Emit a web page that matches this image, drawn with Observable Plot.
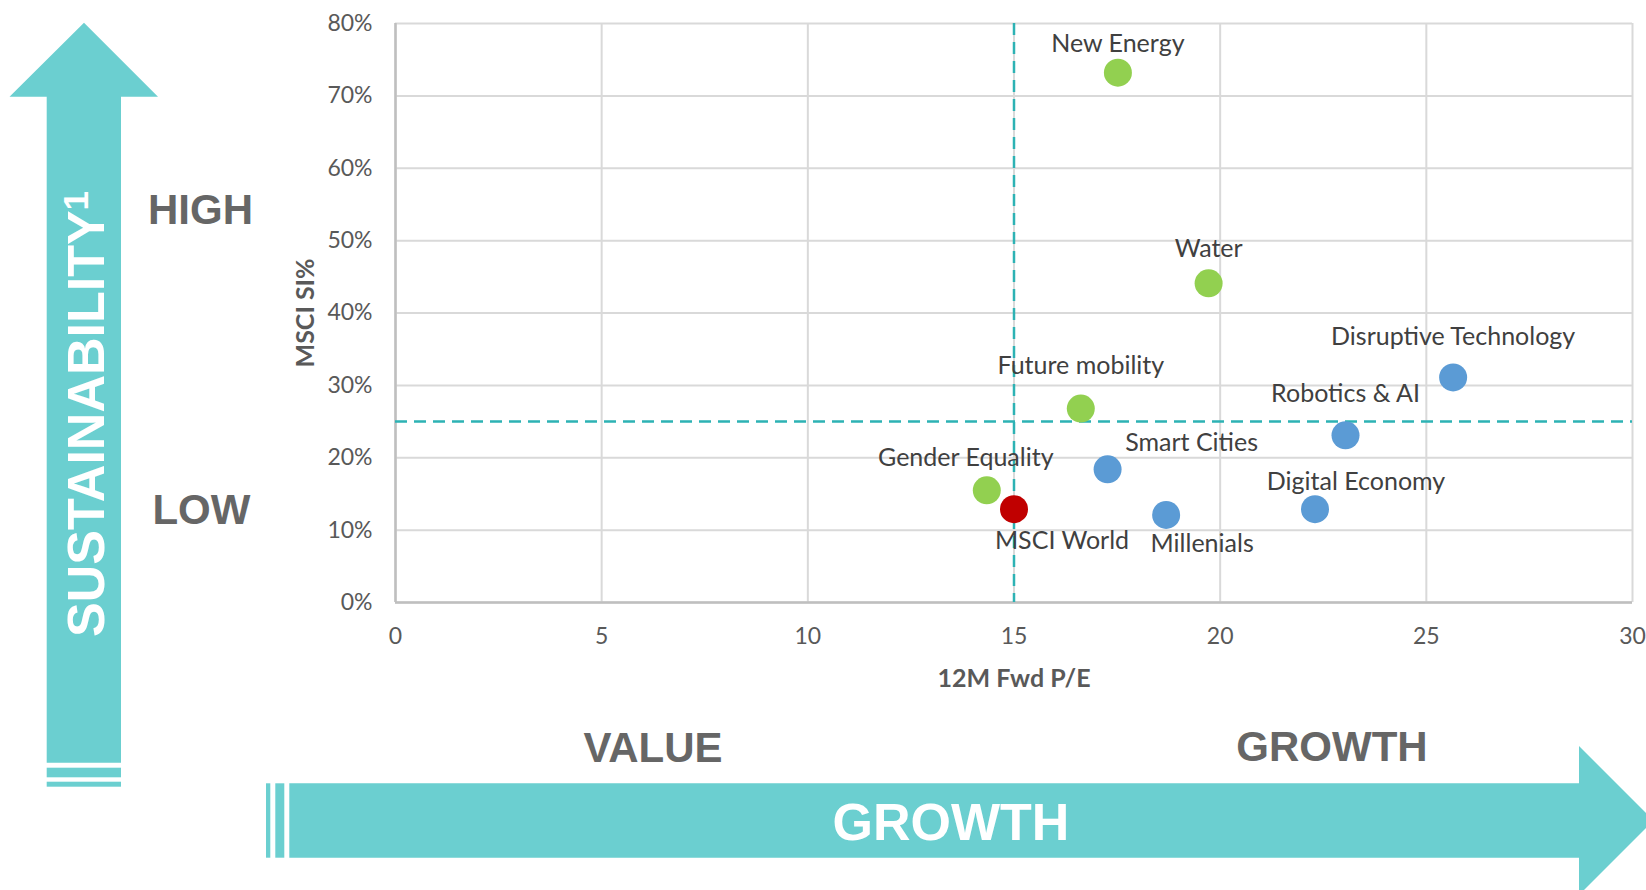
<!DOCTYPE html>
<html>
<head>
<meta charset="utf-8">
<script src="https://cdn.jsdelivr.net/npm/d3@7"></script>
<script src="https://cdn.jsdelivr.net/npm/@observablehq/plot@0.6"></script>
<style>
  html, body { margin: 0; padding: 0; background: #fff; }
  #chart { position: relative; width: 1646px; height: 890px; overflow: hidden; }
</style>
</head>
<body>
<div id="chart"></div>
<script>
// ---------- data ----------
const themes = ["New Energy", "Water", "Future mobility", "Gender Equality", "MSCI World",
                "Smart Cities", "Millenials", "Digital Economy", "Robotics & AI", "Disruptive Technology"];
const fwdPE  = [17.52, 19.72, 16.62, 14.34, 15.0, 17.27, 18.69, 22.3, 23.04, 25.65];
const msciSI = [0.732, 0.441, 0.268, 0.155, 0.129, 0.184, 0.121, 0.129, 0.231, 0.311];
const themeGroup = ["Sustainability", "Sustainability", "Sustainability", "Sustainability", "Benchmark",
                    "Technology", "Technology", "Technology", "Technology", "Technology"];
const groupNames = ["Sustainability", "Technology", "Benchmark"];
const xTicks = [0, 5, 10, 15, 20, 25, 30];
const yTicks = [0, 0.1, 0.2, 0.3, 0.4, 0.5, 0.6, 0.7, 0.8];
const peThreshold = [15];
const siThreshold = [0.25];
const xTitle = "12M Fwd P/E";
const yTitle = "MSCI SI%";

const rows = themes.map((name, i) => ({name, pe: fwdPE[i], si: msciSI[i], group: themeGroup[i]}));

// label placement relative to each dot (layout only)
const labelOffsets = {
  "New Energy": [0, -21],
  "Water": [0, -26],
  "Future mobility": [0, -35],
  "Gender Equality": [-21, -24],
  "MSCI World": [48, 40],
  "Smart Cities": [84, -18],
  "Millenials": [36, 37],
  "Digital Economy": [41, -19],
  "Robotics & AI": [0, -33],
  "Disruptive Technology": [0, -32]
};

const teal = "#2DB2B4";
const labelMarks = rows.map(r => Plot.text([r], {
  x: "pe", y: "si", text: "name",
  dx: labelOffsets[r.name][0], dy: labelOffsets[r.name][1],
  lineAnchor: "bottom", textAnchor: "middle",
  fontSize: 25, fill: "#404040"
}));

const svg = Plot.plot({
  width: 1646,
  height: 890,
  marginLeft: 395,
  marginRight: 14,
  marginTop: 23,
  marginBottom: 288,
  style: {fontFamily: "Lato, 'Open Sans', sans-serif", background: "white"},
  x: {domain: [0, 30]},
  y: {domain: [0, 0.8]},
  color: {domain: groupNames, range: ["#92D050", "#5B9BD5", "#C00000"]},
  marks: [
    Plot.gridX(xTicks, {stroke: "#D9D9D9", strokeOpacity: 1, strokeWidth: 2}),
    Plot.gridY(yTicks, {stroke: "#D9D9D9", strokeOpacity: 1, strokeWidth: 2}),
    Plot.ruleX([0], {stroke: "#BFBFBF", strokeWidth: 2.5}),
    Plot.ruleY([0], {stroke: "#BFBFBF", strokeWidth: 2.5}),
    Plot.axisX({ticks: xTicks, tickSize: 0, tickPadding: 25, fontSize: 23, fill: "#595959", label: null}),
    Plot.axisY({ticks: yTicks, tickFormat: d3.format(".0%"), tickSize: 0, tickPadding: 23, fontSize: 23, fill: "#595959", label: null}),
    Plot.text([xTitle], {frameAnchor: "bottom", dy: 84, lineAnchor: "bottom", textAnchor: "middle", fontSize: 25, fontWeight: "bold", fill: "#595959"}),
    Plot.text([yTitle], {frameAnchor: "left", dx: -82, rotate: -90, lineAnchor: "bottom", textAnchor: "middle", fontSize: 25, fontWeight: "bold", fill: "#595959"}),
    Plot.ruleX(peThreshold, {stroke: teal, strokeWidth: 2.5, strokeDasharray: "12,7"}),
    Plot.ruleY(siThreshold, {stroke: teal, strokeWidth: 2.5, strokeDasharray: "12,7"}),
    Plot.dot(rows, {x: "pe", y: "si", r: 14, fill: "group"}),
    ...labelMarks
  ]
});

document.getElementById("chart").appendChild(svg);

// ---------- decorations (arrows & quadrant words) ----------
const arrowFill = "#6BCFD0";
const deco = d3.select(svg).append("g").attr("class", "decorations");
// vertical arrow
deco.append("polygon")
  .attr("points", "9.5,96.7 84,22.7 158,96.7 121,96.7 121,762.7 46.7,762.7 46.7,96.7")
  .attr("fill", arrowFill);
deco.append("rect").attr("x", 46.7).attr("y", 767.7).attr("width", 74.3).attr("height", 9.6).attr("fill", arrowFill);
deco.append("rect").attr("x", 46.7).attr("y", 781.7).attr("width", 74.3).attr("height", 5).attr("fill", arrowFill);
// horizontal arrow
deco.append("rect").attr("x", 266).attr("y", 783.3).attr("width", 4.3).attr("height", 74.4).attr("fill", arrowFill);
deco.append("rect").attr("x", 275.3).attr("y", 783.3).attr("width", 9).attr("height", 74.4).attr("fill", arrowFill);
deco.append("polygon")
  .attr("points", "289.3,783.3 1579,783.3 1579,746 1653.5,820.5 1579,895 1579,857.7 289.3,857.7")
  .attr("fill", arrowFill);

const bigFont = "'Liberation Sans', Arial, sans-serif";
const sus = deco.append("text")
  .attr("transform", "translate(104,637) rotate(-90)")
  .attr("text-anchor", "start")
  .attr("font-family", bigFont).attr("font-weight", "bold").attr("font-size", 52)
  .attr("fill", "white");
sus.append("tspan").text("SUSTAINABILITY");
sus.append("tspan").attr("dy", -16).attr("font-size", 35).text("1");

const words = [
  {t: "HIGH", x: 200.5, y: 224, s: 42, c: "#666666"},
  {t: "LOW", x: 201.4, y: 524, s: 42, c: "#666666"},
  {t: "VALUE", x: 653, y: 762, s: 42, c: "#666666"},
  {t: "GROWTH", x: 1332, y: 761, s: 42, c: "#666666"},
  {t: "GROWTH", x: 951, y: 840, s: 52, c: "#FFFFFF"}
];
words.forEach(w => deco.append("text")
  .attr("x", w.x).attr("y", w.y)
  .attr("text-anchor", "middle")
  .attr("font-family", bigFont).attr("font-weight", "bold").attr("font-size", w.s)
  .attr("fill", w.c).text(w.t));
</script>
</body>
</html>
